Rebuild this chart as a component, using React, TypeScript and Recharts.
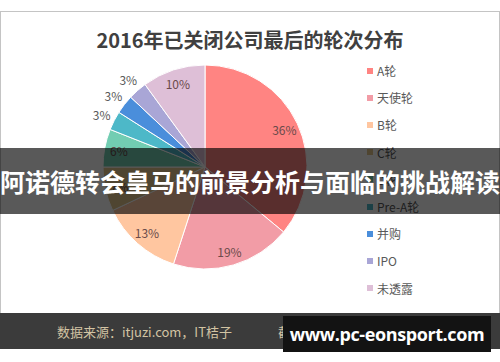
import React from 'react';
import { PieChart, Pie, Cell } from 'recharts';

// Round names, in legend / clockwise slice order
const rounds = ['A轮', '天使轮', 'B轮', 'C轮', 'D轮', 'Pre-A轮', '并购', 'IPO', '未透露'];
// Share of closed companies per round (%)
const shares = [36, 19, 13, 7, 6, 3, 3, 3, 10];
const sliceColors = [
  '#FF8482', // A轮
  '#F29CA6', // 天使轮
  '#FFC6A0', // B轮
  '#E3C68E', // C轮
  '#72CDB2', // D轮
  '#4DB8C8', // Pre-A轮
  '#4A8EDB', // 并购
  '#A9A6D6', // IPO
  '#DEBFD7', // 未透露
];

const data = rounds.map((name, i) => ({ name, value: shares[i] }));

const RAD = Math.PI / 180;
const CJK = '"Noto Sans CJK SC", "Noto Sans", sans-serif';

function renderLabel({ cx, cy, midAngle, outerRadius, value }: any) {
  const small = value < 5;
  const r = small ? outerRadius + 14 : outerRadius * 0.86;
  const x = cx + r * Math.cos(-midAngle * RAD);
  const y = cy + r * Math.sin(-midAngle * RAD);
  return (
    <text
      x={x}
      y={y}
      textAnchor="middle"
      dominantBaseline="central"
      fill={small ? '#595959' : '#6a4a4a'}
      style={{ fontSize: 12, fontFamily: CJK }}
    >
      {`${value}%`}
    </text>
  );
}

// Legend kept in the source order (Recharts' Legend would sort it)
function LegendList() {
  return (
    <div
      style={{
        position: 'absolute',
        left: 367,
        top: 57,
        fontFamily: CJK,
        fontSize: 12,
        color: '#595959',
      }}
    >
      {rounds.map((name, i) => (
        <div key={name} style={{ display: 'flex', alignItems: 'center', height: 27.2 }}>
          <span
            style={{ width: 6, height: 6, background: sliceColors[i], marginRight: 4, display: 'inline-block' }}
          />
          <span>{name}</span>
        </div>
      ))}
    </div>
  );
}

export default function App() {
  return (
    <div
      style={{
        position: 'absolute',
        left: 0,
        top: 0,
        width: 500,
        height: 362,
        background: '#fff',
        overflow: 'hidden',
      }}
    >
      {/* framed chart area */}
      <div
        style={{
          position: 'absolute',
          left: 0,
          top: 11,
          width: 498,
          height: 302,
          border: '1px solid #c4c4c4',
          background: '#fff',
        }}
      />
      <div
        style={{
          position: 'absolute',
          left: 0,
          top: 25,
          width: 500,
          textAlign: 'center',
          fontFamily: CJK,
          fontWeight: 700,
          fontSize: 20,
          color: '#404040',
        }}
      >
        2016年已关闭公司最后的轮次分布
      </div>
      <div style={{ position: 'absolute', left: 0, top: 0 }}>
        <PieChart width={500} height={362} margin={{ top: 0, right: 0, bottom: 0, left: 0 }}>
          <Pie
            data={data}
            dataKey="value"
            nameKey="name"
            cx={205}
            cy={167}
            outerRadius={102}
            startAngle={90}
            endAngle={-270}
            stroke="#fff"
            strokeWidth={1}
            label={renderLabel}
            labelLine={false}
            isAnimationActive={false}
          >
            {data.map((d, i) => (
              <Cell key={d.name} fill={sliceColors[i]} />
            ))}
          </Pie>
        </PieChart>
      </div>
      <LegendList />
      {/* footer bar */}
      <div
        style={{
          position: 'absolute',
          left: 0,
          top: 313,
          width: 500,
          height: 36,
          background: '#3b3b3b',
          fontFamily: CJK,
          fontSize: 13,
          color: '#d2c3a3',
        }}
      >
        <span style={{ position: 'absolute', left: 57, top: 9 }}>数据来源：itjuzi.com，IT桔子</span>
        <span style={{ position: 'absolute', left: 278, top: 9 }}>截止时间：2016.12.31</span>
      </div>
      {/* watermark */}
      <div
        style={{
          position: 'absolute',
          left: 283,
          top: 316,
          width: 208,
          height: 36,
          background: '#131313',
          color: '#fff',
          fontFamily: '"Open Sans", sans-serif',
          fontWeight: 700,
          fontSize: 18,
          letterSpacing: -0.4,
          lineHeight: '36px',
          textAlign: 'center',
          whiteSpace: 'nowrap',
        }}
      >
        www.pc-eonsport.com
      </div>
      {/* banner */}
      <div
        style={{
          position: 'absolute',
          left: 0,
          top: 148,
          width: 500,
          height: 66,
          background: 'rgba(0,0,0,0.65)',
          color: '#fff',
          fontFamily: CJK,
          fontWeight: 700,
          fontSize: 25,
          lineHeight: '66px',
          textAlign: 'center',
          whiteSpace: 'nowrap',
        }}
      >
        阿诺德转会皇马的前景分析与面临的挑战解读
      </div>
    </div>
  );
}
